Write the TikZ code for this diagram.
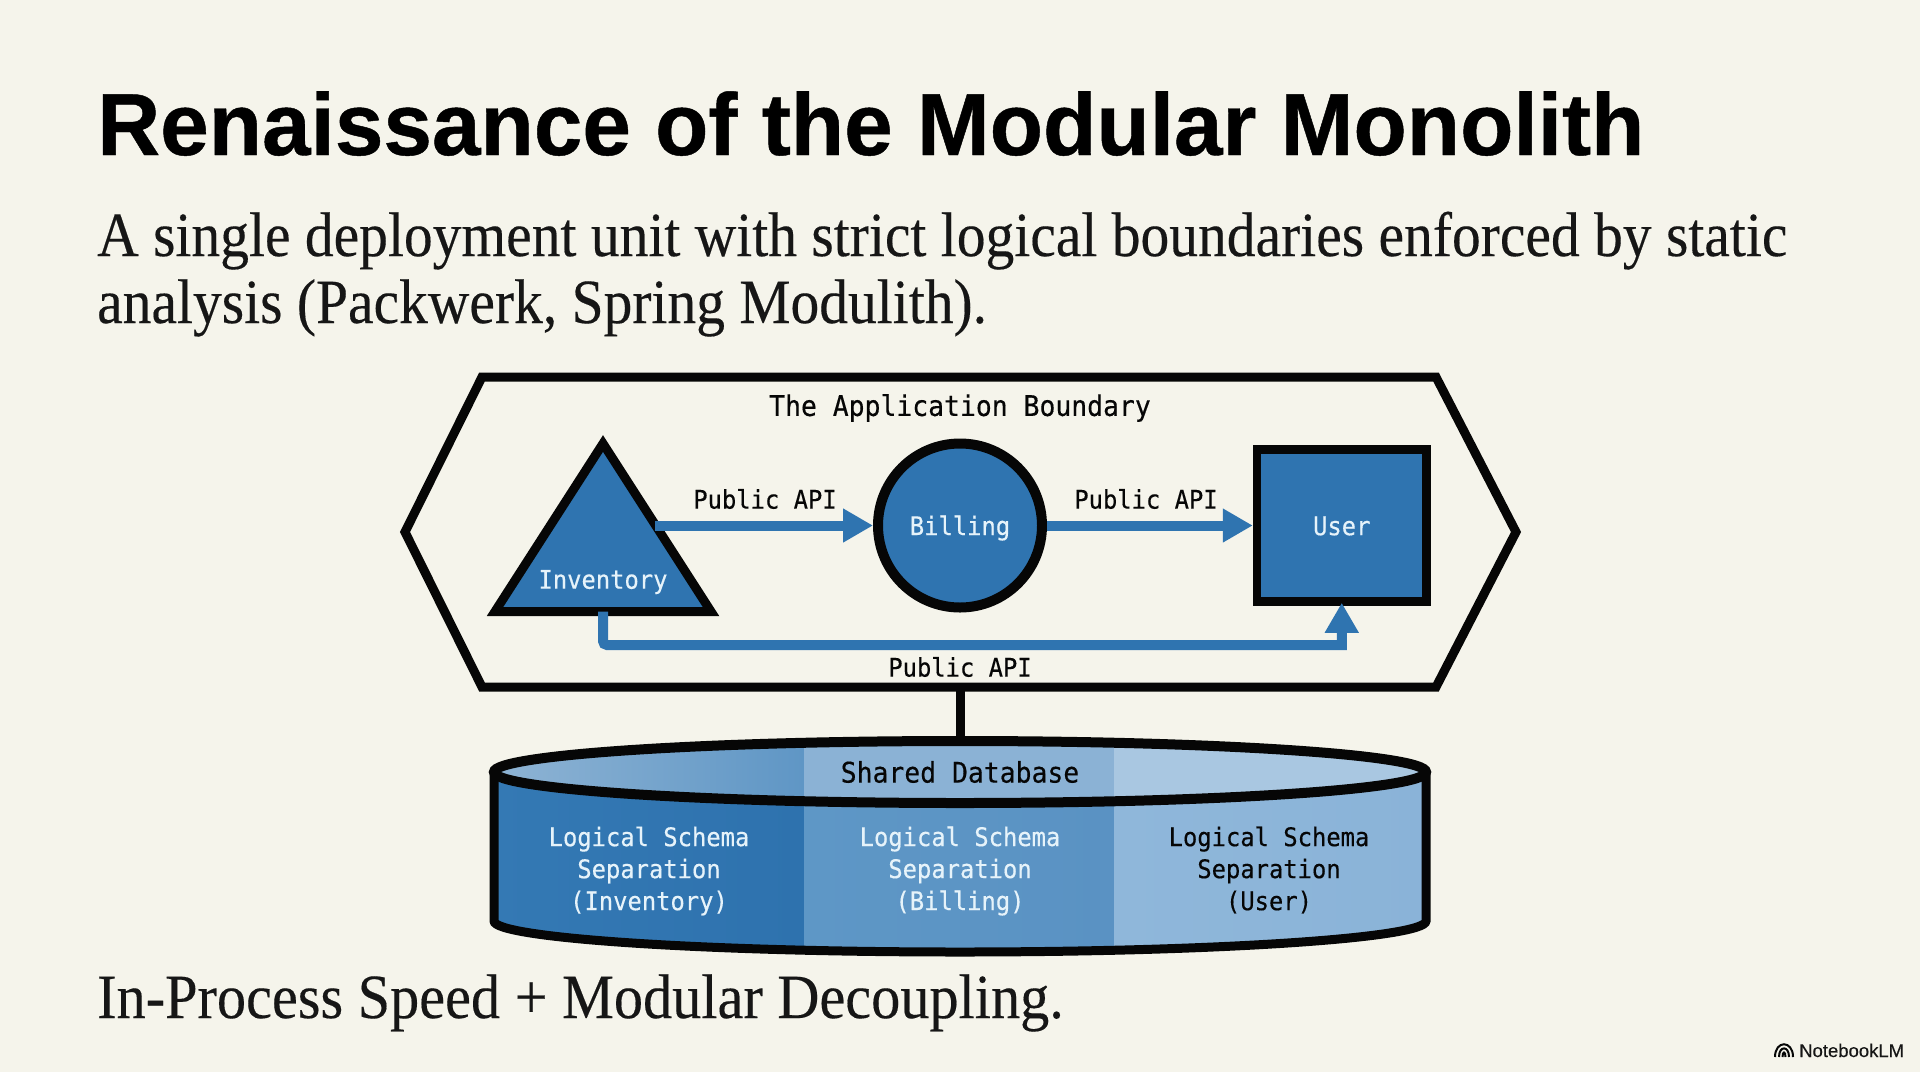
\documentclass[tikz,border=0pt]{standalone}
\usepackage{fontspec}
\usetikzlibrary{arrows.meta,shapes.geometric}
\newfontfamily\titlefont{Liberation Sans Bold}[FakeStretch=0.992,FakeBold=0.5]
\newfontfamily\badgefont{Liberation Sans}[FakeBold=0.3]
\newfontfamily\bodyfont{Liberation Serif}[FakeStretch=0.913,FakeBold=0.25]
\newfontfamily\closingfont{Liberation Serif}[FakeStretch=0.925,FakeBold=0.25]
\newfontfamily\labelfont{DejaVu Sans Mono}[FakeStretch=0.93,FakeBold=0.35]
\definecolor{pagebg}{HTML}{F5F4EB}
\definecolor{ink}{HTML}{060606}
\definecolor{textink}{HTML}{161616}
\definecolor{modblue}{HTML}{2F74B0}
\definecolor{lighttext}{HTML}{E6F3FA}
\definecolor{bodyA}{HTML}{3479B4}
\definecolor{bodyAr}{HTML}{2E72AE}
\definecolor{bodyB}{HTML}{5E97C6}
\definecolor{bodyBr}{HTML}{5A92C3}
\definecolor{bodyC}{HTML}{8FB7DA}
\definecolor{bodyCr}{HTML}{8AB3D8}
\definecolor{topA}{HTML}{8FB4D4}
\definecolor{topAr}{HTML}{5F96C5}
\definecolor{topB}{HTML}{8BB2D5}
\definecolor{topC}{HTML}{A9C7E1}
\tikzset{
  x=1pt,y=-1pt,
  outline/.style={draw=ink,line join=miter},
  module/.style={outline,fill=modblue,line width=9pt,inner sep=0pt},
  apilink/.style={draw=modblue,line width=10pt,-{Triangle[length=30pt,width=32pt]}},
  monolabel/.style={font=\labelfont\fontsize{25.6}{32}\selectfont,text=ink,align=center,inner sep=0pt},
  monolight/.style={monolabel,text=lighttext},
  monobig/.style={monolabel,font=\labelfont\fontsize{28.4}{32}\selectfont},
  textline/.style={anchor=base west,inner sep=0pt,text=textink},
}
\begin{document}
\begin{tikzpicture}
\useasboundingbox (0,0) rectangle (1920,1072);
\fill[pagebg] (0,0) rectangle (1920,1072);

% texts
\node[textline,text=black,font=\titlefont\fontsize{88}{88}\selectfont] (title) at (97,155) {Renaissance of the Modular Monolith};
\node[textline,font=\bodyfont\fontsize{63}{63}\selectfont] (subA) at (97,256) {A single deployment unit with strict logical boundaries enforced by static};
\node[textline,font=\bodyfont\fontsize{63}{63}\selectfont] (subB) at (97,323) {analysis (Packwerk, Spring Modulith).};
\node[textline,font=\closingfont\fontsize{63}{63}\selectfont] (closing) at (97,1018) {In-Process Speed + Modular Decoupling.};

% hexagon boundary
\coordinate (hexS) at (960,687);
\coordinate (dbN) at (960,742);
\draw[outline,line width=9pt] (482,377) -- (1436,377) -- (1516,532) -- (1436,687) -- (482,687) -- (405,532) -- cycle;
\draw[ink,line width=9pt] (hexS) -- (dbN);
\node[monobig] (boundary) at (960,408) {The Application Boundary};

% modules
\node[module,isosceles triangle,shape border rotate=90,isosceles triangle apex angle=65.5,
      isosceles triangle stretches,minimum height=168pt,minimum width=216pt,anchor=lower side,outer sep=0pt] (inv) at (603,611.5) {};
\node[module,circle,line width=10pt,minimum size=164pt,outer sep=5pt] (bill) at (960,525.5) {};
\node[module,rectangle,line width=8.5pt,minimum width=169.5pt,minimum height=152pt,outer sep=4.25pt] (user) at (1341.75,525.5) {};
\node[monolight] (invlabel) at (603,582) {Inventory};
\node[monolight] (billlabel) at (960,528) {Billing};
\node[monolight] (userlabel) at (1341.75,526) {User};

% connectors
\coordinate (invout) at (655,525.5);
\coordinate (low) at (960,645);
\draw[apilink] (invout) -- (bill.west);
\draw[apilink] (bill.east) -- (user.west);
\draw[apilink,shorten >=-3pt] (inv.lower side) [rounded corners=4pt] -- (inv.lower side |- low) [sharp corners] -- (low -| user.south) -- (user.south);
\node[monolabel] (apiA) at (765,499) {Public API};
\node[monolabel] (apiB) at (1146,499) {Public API};
\node[monolabel] (apiC) at (960,667) {Public API};

% database
\begin{scope}
\clip (494,772) -- (494,921) .. controls (494,938) and (703,952) .. (960,952) .. controls (1217,952) and (1426,938) .. (1426,921) -- (1426,772) -- cycle;
\fill[left color=bodyA,right color=bodyAr] (490,760) rectangle (804,960);
\fill[left color=bodyB,right color=bodyBr] (804,760) rectangle (1114,960);
\fill[left color=bodyC,right color=bodyCr] (1114,760) rectangle (1430,960);
\end{scope}
\begin{scope}
\clip (960,772) ellipse [x radius=466,y radius=31];
\fill[left color=topA,right color=topAr] (490,735) rectangle (804,810);
\fill[topB] (804,735) rectangle (1114,810);
\fill[topC] (1114,735) rectangle (1430,810);
\end{scope}
\draw[outline,line width=10pt] (960,772) ellipse [x radius=466,y radius=31];
\draw[outline,line width=9pt] (494,772) -- (494,921) .. controls (494,938) and (703,952) .. (960,952) .. controls (1217,952) and (1426,938) .. (1426,921) -- (1426,772);
\node[monobig] (dbname) at (960,772) {Shared Database};
\node[monolight] (schemaA) at (649,871) {Logical Schema\\[0pt]Separation\\[0pt](Inventory)};
\node[monolight] (schemaB) at (960,871) {Logical Schema\\[0pt]Separation\\[0pt](Billing)};
\node[monolabel] (schemaC) at (1269,870) {Logical Schema\\[0pt]Separation\\[0pt](User)};

% badge
\node[anchor=base west,inner sep=0pt,text=textink,font=\badgefont\fontsize{18.5}{18.5}\selectfont] (badge) at (1799,1057) {NotebookLM};
\draw[ink,line width=2pt] (1775,1057) .. controls (1775,1040) and (1793,1040) .. (1793,1057);
\draw[ink,line width=2pt] (1779,1057) .. controls (1779,1045.5) and (1789,1045.5) .. (1789,1057);
\draw[ink,line width=2pt] (1782.5,1057) .. controls (1782.5,1051) and (1785.5,1051) .. (1785.5,1057);
\end{tikzpicture}
\end{document}
